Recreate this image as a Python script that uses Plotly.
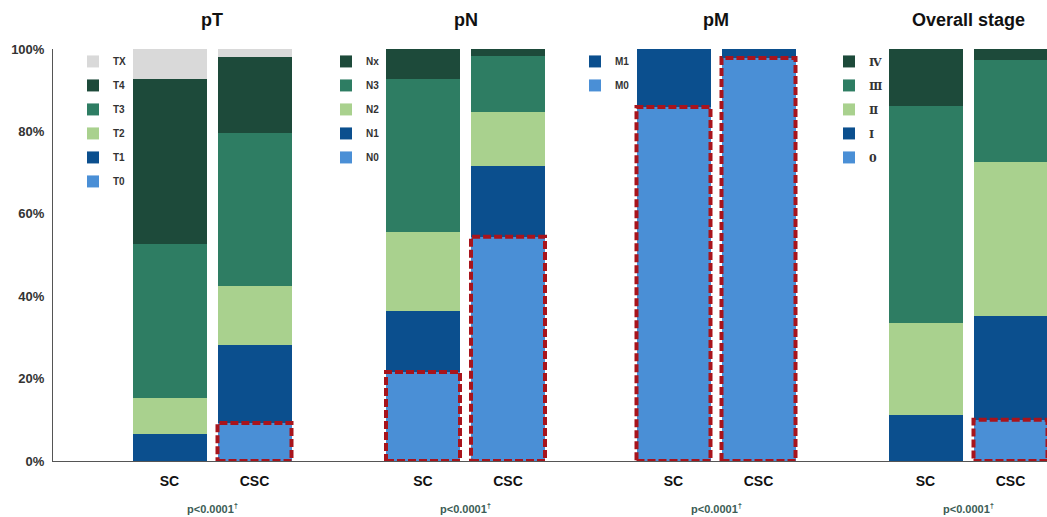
import plotly.graph_objects as go

# ---------------- data ----------------
groups = ["SC", "CSC"]

pT_labels = ["T0", "T1", "T2", "T3", "T4", "TX"]
pT_SC = [0.0, 6.5, 8.8, 37.4, 40.0, 7.3]
pT_CSC = [9.2, 19.0, 14.3, 37.1, 18.5, 1.9]

pN_labels = ["N0", "N1", "N2", "N3", "Nx"]
pN_SC = [21.6, 14.8, 19.2, 37.1, 7.3]
pN_CSC = [54.4, 17.2, 13.1, 13.6, 1.7]

pM_labels = ["M0", "M1"]
pM_SC = [85.9, 14.1]
pM_CSC = [97.8, 2.2]

stage_labels = ["0", "Ⅰ", "Ⅱ", "Ⅲ", "Ⅳ"]
stage_SC = [0.0, 11.2, 22.3, 52.7, 13.8]
stage_CSC = [10.0, 25.2, 37.4, 24.7, 2.7]

panel_titles = ["pT", "pN", "pM", "Overall stage"]
p_values = ["p<0.0001<sup>†</sup>"] * 4
y_ticks = [0, 20, 40, 60, 80, 100]
y_tick_text = [f"{v}%" for v in y_ticks]

# ---------------- styling ----------------
W, H = 1047, 517
colors = ["#4a8fd6", "#0b4f8e", "#a9d18e", "#2e7d63", "#1d4a3a", "#d9d9d9"]
panels = [
    (pT_labels, pT_SC, pT_CSC),
    (pN_labels, pN_SC, pN_CSC),
    (pM_labels, pM_SC, pM_CSC),
    (stage_labels, stage_SC, stage_CSC),
]

# pixel layout of panels
axis_px = 52
dom_px = [(52, 330), (330, 585), (585, 835), (835, 1047)]
sc_center_px = [169.5, 423, 673.5, 925.5]
unit_px = 85.0
bar_w = 74 / unit_px
legend_px = [73, 326, 575, 829]
font_family = "Liberation Sans, Arial, sans-serif"
legend_fonts = [
    dict(family=font_family, size=10, color="#333333", weight="bold"),
    dict(family=font_family, size=10, color="#333333", weight="bold"),
    dict(family=font_family, size=10, color="#333333", weight="bold"),
    dict(family="DejaVu Serif, Noto Sans CJK KR, serif", size=11, color="#333333", weight="bold"),
]

fig = go.Figure()
layout_axes = {}
for i, (labels, sc, csc) in enumerate(panels):
    xa = "x" if i == 0 else f"x{i+1}"
    leg = "legend" if i == 0 else f"legend{i+1}"
    n = len(labels)
    for j, lab in enumerate(labels):
        fig.add_trace(go.Bar(
            x=groups, y=[sc[j], csc[j]], name=lab,
            marker=dict(color=colors[j], line=dict(width=0)),
            width=bar_w, xaxis=xa, yaxis="y", legend=leg,
            legendgroup=f"{i}-{lab}", legendrank=100 + (n - j),
        ))
    d0, d1 = dom_px[i]
    start = -(sc_center_px[i] - d0) / unit_px
    end = start + (d1 - d0) / unit_px
    key = "xaxis" if i == 0 else f"xaxis{i+1}"
    layout_axes[key] = dict(
        domain=[d0 / W, d1 / W], range=[start, end], anchor="y",
        showline=True, linecolor="#555555", linewidth=1,
        showgrid=False, zeroline=False, ticks="",
        ticklabelstandoff=7,
        tickfont=dict(family=font_family, size=14, color="#111111", weight="bold"),
        fixedrange=True,
    )
    layout_axes[leg] = dict(
        x=legend_px[i] / W, y=1.005, xanchor="left", yanchor="top",
        traceorder="grouped", tracegroupgap=5,
        font=legend_fonts[i],
        bgcolor="rgba(0,0,0,0)", itemclick=False, itemdoubleclick=False,
    )
    # dashed highlight around the lowest category
    for k, vals in enumerate([sc, csc]):
        if vals[0] > 0:
            fig.add_shape(
                type="rect", xref=xa, yref="y",
                x0=k - bar_w / 2, x1=k + bar_w / 2, y0=0, y1=vals[0],
                line=dict(color="#a8141c", width=4, dash="8px,3px"),
                fillcolor="rgba(0,0,0,0)", layer="above",
            )
    center = (sc_center_px[i] + unit_px / 2) / W
    fig.add_annotation(
        x=center, y=1, xref="paper", yref="paper",
        xanchor="center", yanchor="bottom", yshift=17,
        text=panel_titles[i], showarrow=False,
        font=dict(family=font_family, size=18, color="#111111", weight="bold"),
    )
    fig.add_annotation(
        x=center, y=0, xref="paper", yref="paper",
        xanchor="center", yanchor="middle", yshift=-47,
        text=p_values[i], showarrow=False,
        font=dict(family=font_family, size=11, color="#3d5c55", weight="bold"),
    )

fig.update_layout(
    width=W, height=H, barmode="stack",
    margin=dict(l=0, r=0, t=49, b=56),
    paper_bgcolor="white", plot_bgcolor="white",
    showlegend=True,
    yaxis=dict(
        range=[0, 100], tickmode="array", tickvals=y_ticks, ticktext=y_tick_text,
        anchor="free", position=axis_px / W,
        showline=True, linecolor="#555555", linewidth=1,
        showgrid=False, zeroline=False,
        ticks="outside", ticklen=5, tickcolor="rgba(0,0,0,0)",
        tickfont=dict(family=font_family, size=13, color="#333333", weight="bold"),
        fixedrange=True,
    ),
    **layout_axes,
)

fig.write_html("out.html", config={"displayModeBar": False})

# remove the browser's default page margin so the figure sits at the top-left
with open("out.html", "r", encoding="utf-8") as f:
    html = f.read()
html = html.replace("<head>", "<head><style>html,body{margin:0;padding:0;overflow:hidden;}</style>", 1)
with open("out.html", "w", encoding="utf-8") as f:
    f.write(html)
